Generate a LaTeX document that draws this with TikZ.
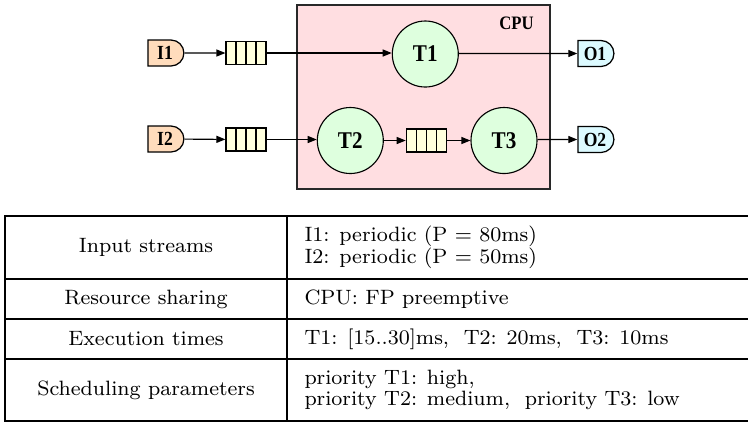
\documentclass[tikz,border=0pt]{standalone}
\usepackage{fontspec}
\newfontfamily\diafont[FakeStretch=0.88]{Liberation Serif}
\usetikzlibrary{shapes.misc,arrows.meta,calc}
\definecolor{cpufill}{RGB}{255,222,225}
\definecolor{taskfill}{RGB}{222,255,222}
\definecolor{qfill}{RGB}{255,255,221}
\definecolor{infill}{RGB}{255,220,188}
\definecolor{outfill}{RGB}{220,250,255}
\definecolor{edgecol}{RGB}{40,40,40}
\begin{document}
\begin{tikzpicture}[x=0.4pt,y=-0.4pt,
  task/.style={circle, draw=black, line width=0.45pt, fill=taskfill, minimum size=26.4pt, inner sep=0pt,
    font=\diafont\bfseries\fontsize{9.6}{10}\selectfont},
  queue/.style={rectangle, draw=black, line width=0.45pt, fill=qfill, minimum width=16pt, minimum height=9.2pt, inner sep=0pt,
    path picture={\foreach \f in {0.25,0.5,0.75}{\draw[line width=0.45pt]
      ($(path picture bounding box.north west)!\f!(path picture bounding box.north east)$) --
      ($(path picture bounding box.south west)!\f!(path picture bounding box.south east)$);}}},
  port/.style={rounded rectangle, rounded rectangle left arc=none, draw=black, line width=0.5pt,
    minimum width=14.4pt, minimum height=10.4pt, inner sep=0pt,
    font=\diafont\bfseries\fontsize{8}{9}\selectfont},
  inport/.style={port, fill=infill},
  outport/.style={port, fill=outfill},
  flow/.style={-{Triangle[length=3.6pt,width=2.8pt]}, line width=0.45pt},
  cell/.style={inner sep=0pt, font=\fontsize{8.3}{8.64}\selectfont, align=left},
  rulebar/.style={line width=0.85pt}
]
\useasboundingbox (0,0) rectangle (748,423);

% CPU resource box
\node[draw=edgecol, fill=cpufill, line width=0.5pt, minimum width=101.2pt, minimum height=73.6pt, inner sep=0pt] (cpu) at (423.5,97) {};
\node[font=\diafont\bfseries\fontsize{7.6}{8}\selectfont, inner sep=0pt] (cpulabel) at (516.5,23) {CPU};

% nodes
\node[inport] (i1) at (165,53) {I1};
\node[inport] (i2) at (165,139) {I2};
\node[queue] (q1) at (246,53) {};
\node[queue] (q2) at (246,139.5) {};
\node[task] (t1) at (425.3,54) {T1};
\node[task] (t2) at (350.3,140.5) {T2};
\node[queue] (q3) at (426.3,140.5) {};
\node[task] (t3) at (504,140.5) {T3};
\node[outport] (o1) at (595,53.5) {O1};
\node[outport] (o2) at (595,139.5) {O2};

% connectors
\draw[flow] (i1) -- (q1);
\draw[flow] (q1) -- (t1.west |- q1);
\draw[flow] (t1.east |- o1) -- (o1);
\draw[flow] (i2) -- (q2);
\draw[flow] (q2.east) -- (t2.west |- q2.east);
\draw[flow] (t2) -- (q3);
\draw[flow] (q3) -- (t3);
\draw[flow] (t3.east |- o2) -- (o2);

% table rules
\draw[rulebar] (748,216) -- (5,216) -- (5,421) -- (748,421);
\draw[rulebar] (5,279) -- (748,279);
\draw[rulebar] (5,319) -- (748,319);
\draw[rulebar] (5,359) -- (748,359);
\draw[rulebar] (287,216) -- (287,421);

% table text
\node[cell] (h1) at (146,247.5) {Input streams};
\node[cell, anchor=west] (v1) at (304,247.5) {I1: periodic (P = 80ms)\\I2: periodic (P = 50ms)};
\node[cell] (h2) at (146,299) {Resource sharing};
\node[cell, anchor=west] (v2) at (304,299) {CPU: FP preemptive};
\node[cell] (h3) at (146,339) {Execution times};
\node[cell, anchor=west] (v3) at (304,339) {T1: [15..30]ms,~~T2: 20ms,~~T3: 10ms};
\node[cell] (h4) at (146,390) {Scheduling parameters};
\node[cell, anchor=west] (v4) at (304,390) {priority T1: high,\\priority T2: medium,~~priority T3: low};
\end{tikzpicture}
\end{document}
